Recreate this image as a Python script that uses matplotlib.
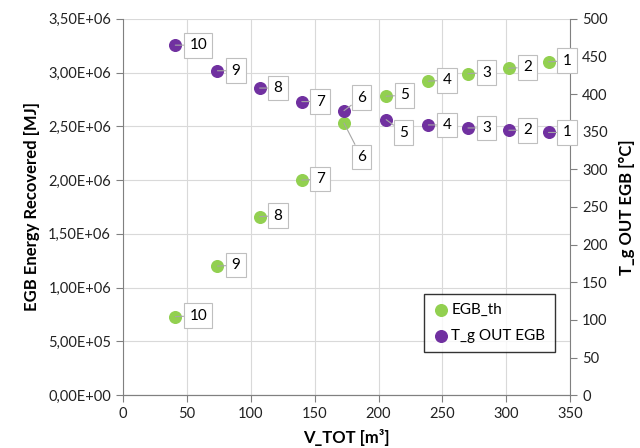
import matplotlib
matplotlib.use('Agg')
import matplotlib.pyplot as plt
from matplotlib.ticker import FuncFormatter, MultipleLocator

plt.rcParams['font.family'] = ['Lato', 'DejaVu Sans']

# case numbers
cases = ['1', '2', '3', '4', '5', '6', '7', '8', '9', '10']
v_tot = [333, 302, 270, 239, 206, 173, 140, 107, 74, 41]
egb_th = [3.10e6, 3.04e6, 2.99e6, 2.92e6, 2.78e6, 2.53e6, 2.00e6, 1.66e6, 1.20e6, 0.73e6]
t_out = [349, 352, 355, 359, 366, 378, 390, 408, 431, 465]

green = '#92D050'
purple = '#7030A0'

fig = plt.figure(figsize=(6.4, 4.48), dpi=100)
ax = fig.add_axes([0.192, 0.118, 0.699, 0.840])
ax2 = ax.twinx()

ax.set_xlim(0, 350)
ax.set_ylim(0, 3.5e6)
ax2.set_ylim(0, 500)
ax.xaxis.set_major_locator(MultipleLocator(50))
ax.yaxis.set_major_locator(MultipleLocator(5e5))
ax2.yaxis.set_major_locator(MultipleLocator(50))
ax.yaxis.set_major_formatter(FuncFormatter(lambda v, p: f"{v:.2E}".replace('.', ',')))

ax.grid(True, color='#d9d9d9', lw=0.8)
ax.set_axisbelow(True)

for a in (ax, ax2):
    a.spines['top'].set_visible(False)
    for s in ('left', 'right', 'bottom'):
        a.spines[s].set_color('#808080')
    a.tick_params(colors='#808080', labelcolor='#222222', labelsize=10.5, length=5, direction='out')
ax2.spines['left'].set_visible(False)
ax.spines['right'].set_visible(False)

h1 = ax.scatter(v_tot, egb_th, s=70, color=green, zorder=3, label='EGB_th')
h2 = ax2.scatter(v_tot, t_out, s=70, color=purple, zorder=3, label='T_g OUT EGB')

box = dict(boxstyle='square,pad=0.35', fc='white', ec='#bfbfbf', lw=0.8)
line = dict(arrowstyle='-', color='#a6a6a6', lw=0.8, shrinkA=0, shrinkB=0)

green_off = {'6': (13, -34)}
purple_off = {'6': (13, 13), '5': (13, -13)}

# all labels live on ax2 so they sit above the right spine
for c, x, y in zip(cases, v_tot, egb_th):
    dx, dy = green_off.get(c, (14, 1))
    ax2.annotate(c, (x, y), xycoords=ax.transData, xytext=(dx, dy), textcoords='offset pixels',
                 ha='left', va='center', fontsize=11, bbox=box, arrowprops=line, zorder=4,
                 annotation_clip=False)
for c, x, y in zip(cases, v_tot, t_out):
    dx, dy = purple_off.get(c, (14, 0))
    ax2.annotate(c, (x, y), xytext=(dx, dy), textcoords='offset pixels',
                 ha='left', va='center', fontsize=11, bbox=box, arrowprops=line, zorder=4)

ax.set_xlabel('V_TOT [m³]', fontsize=12, fontweight='bold', labelpad=6)
ax.set_ylabel('EGB Energy Recovered [MJ]', fontsize=12, fontweight='bold', labelpad=6)
ax2.set_ylabel('T_g OUT EGB [°C]', fontsize=12, fontweight='bold', labelpad=8)

leg = ax2.legend(handles=[h1, h2], loc='lower left', bbox_to_anchor=(0.673, 0.114),
                 borderaxespad=0, fontsize=11, frameon=True, fancybox=False,
                 handletextpad=0.2, handlelength=1.0, borderpad=0.6, labelspacing=0.8)
leg.get_frame().set_edgecolor('black')
leg.get_frame().set_linewidth(1.0)

fig.savefig('out.png', dpi=100)
